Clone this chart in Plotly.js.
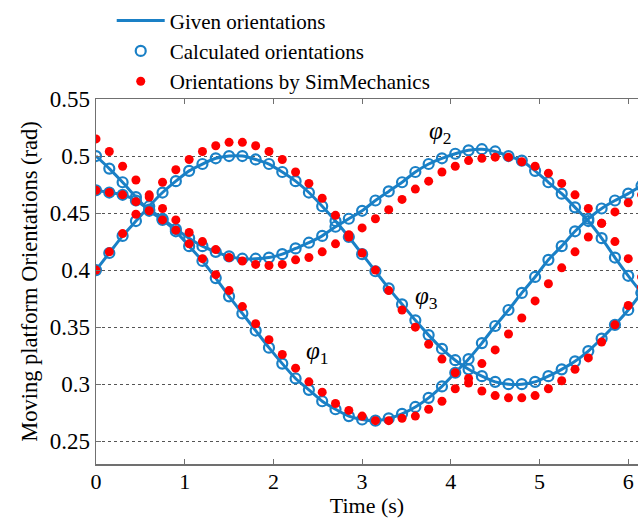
<!DOCTYPE html>
<html>
<head>
<meta charset="utf-8">
<script src="https://cdn.plot.ly/plotly-3.0.1.min.js"></script>
<style>html,body{margin:0;padding:0;background:#fff;}#chart{width:638px;height:518px;}</style>
</head>
<body>
<div id="chart"></div>
<script>
// Time samples (s)
const time = [0.00,0.15,0.30,0.45,0.60,0.75,0.90,1.05,1.20,1.35,1.50,1.65,1.80,1.95,2.10,2.25,2.40,2.55,2.70,2.85,3.00,3.15,3.30,3.45,3.60,3.75,3.90,4.05,4.20,4.35,4.50,4.65,4.80,4.95,5.10,5.25,5.40,5.55,5.70,5.85,6.00,6.15];

// Given orientations (rad)
const givenPhi1 = [0.500,0.489,0.477,0.464,0.452,0.444,0.434,0.421,0.408,0.393,0.377,0.362,0.347,0.332,0.318,0.305,0.295,0.285,0.278,0.272,0.269,0.268,0.270,0.274,0.280,0.288,0.298,0.310,0.322,0.336,0.351,0.365,0.380,0.394,0.409,0.421,0.434,0.445,0.454,0.461,0.467,0.474];
const givenPhi2 = [0.470,0.468,0.466,0.461,0.453,0.445,0.436,0.428,0.421,0.416,0.412,0.410,0.410,0.411,0.414,0.419,0.424,0.430,0.438,0.445,0.452,0.461,0.469,0.477,0.486,0.493,0.498,0.502,0.505,0.506,0.504,0.500,0.496,0.487,0.477,0.467,0.455,0.443,0.428,0.411,0.395,0.380];
const givenPhi3 = [0.400,0.415,0.430,0.443,0.456,0.468,0.478,0.487,0.493,0.498,0.500,0.500,0.497,0.493,0.486,0.478,0.468,0.456,0.443,0.429,0.414,0.399,0.384,0.370,0.356,0.343,0.331,0.321,0.313,0.307,0.302,0.300,0.300,0.302,0.307,0.313,0.320,0.329,0.340,0.352,0.365,0.380];

// Calculated orientations (rad) - coincide with the given ones
const calcPhi1 = givenPhi1.slice();
const calcPhi2 = givenPhi2.slice();
const calcPhi3 = givenPhi3.slice();

// Orientations by SimMechanics (rad)
const simPhi1 = [0.515,0.504,0.491,0.479,0.466,0.454,0.444,0.423,0.410,0.396,0.382,0.368,0.353,0.339,0.326,0.314,0.302,0.293,0.283,0.277,0.272,0.268,0.268,0.270,0.272,0.278,0.285,0.296,0.305,0.318,0.330,0.344,0.358,0.373,0.388,0.402,0.416,0.429,0.441,0.451,0.459,0.466];
const simPhi2 = [0.470,0.468,0.466,0.460,0.452,0.444,0.435,0.433,0.425,0.418,0.411,0.408,0.405,0.404,0.405,0.409,0.411,0.416,0.423,0.429,0.437,0.445,0.453,0.462,0.471,0.478,0.486,0.491,0.496,0.498,0.499,0.499,0.495,0.491,0.485,0.476,0.466,0.454,0.441,0.425,0.410,0.394];
const simPhi3 = [0.400,0.416,0.432,0.449,0.464,0.477,0.488,0.497,0.504,0.509,0.512,0.512,0.509,0.504,0.497,0.486,0.476,0.463,0.448,0.431,0.415,0.400,0.382,0.365,0.350,0.335,0.322,0.310,0.301,0.294,0.290,0.288,0.288,0.290,0.296,0.303,0.313,0.323,0.337,0.352,0.369,0.385];

const seriesNames = ["Given orientations","Calculated orientations","Orientations by SimMechanics"];
const xTicks = [0,1,2,3,4,5,6];
const yTicks = [0.25,0.30,0.35,0.40,0.45,0.50,0.55];
const yTickText = ["0.25","0.3","0.35","0.4","0.45","0.5","0.55"];

const BLUE = "#1a80c6";
const RED = "#ff0000";
const FONT = "Liberation Serif, DejaVu Serif, Noto Serif, serif";

const traces = [];
[givenPhi1, givenPhi2, givenPhi3].forEach((y, i) => {
  traces.push({x: time, y: y, type: "scatter", mode: "lines", name: seriesNames[0],
    legendgroup: "g", showlegend: i === 0,
    line: {color: BLUE, width: 3, shape: "spline", smoothing: 0.6}});
});
[calcPhi1, calcPhi2, calcPhi3].forEach((y, i) => {
  traces.push({x: time, y: y, type: "scatter", mode: "markers", name: seriesNames[1],
    legendgroup: "c", showlegend: i === 0,
    marker: {symbol: "circle-open", size: 10, color: BLUE, line: {width: 2.2, color: BLUE}}});
});
[simPhi1, simPhi2, simPhi3].forEach((y, i) => {
  traces.push({x: time, y: y, type: "scatter", mode: "markers", name: seriesNames[2],
    legendgroup: "s", showlegend: i === 0,
    marker: {symbol: "circle", size: 9, color: RED}});
});

const f = (size) => ({family: FONT, size: size, color: "#000"});

const layout = {
  width: 638, height: 518,
  margin: {l: 96, r: 0, t: 99, b: 54},
  paper_bgcolor: "#fff", plot_bgcolor: "#fff",
  font: f(22),
  showlegend: true,
  legend: {x: 0.029, xanchor: "left", y: 1.27, yanchor: "top",
    font: f(21), bgcolor: "rgba(0,0,0,0)", tracegroupgap: 0, itemwidth: 48},
  xaxis: {range: [0, 6.11], tickvals: xTicks, ticks: "inside", ticklen: 5, tickcolor: "#707070",
    showline: true, linecolor: "#707070", linewidth: 1.5, mirror: "ticks",
    showgrid: false, zeroline: false, tickfont: f(22), ticklabelstandoff: -3,
    title: {text: "Time (s)", font: f(22), standoff: 4}},
  yaxis: {range: [0.23, 0.55], tickvals: yTicks, ticktext: yTickText, ticks: "inside", ticklen: 5,
    tickcolor: "#707070", showline: true, linecolor: "#707070", linewidth: 1.5, mirror: false,
    showgrid: true, gridcolor: "#555", griddash: "dot", gridwidth: 1, zeroline: false,
    tickfont: f(23),
    title: {text: "Moving platform Orientations (rad)", font: f(22.5), standoff: 6}},
  annotations: [
    {x: 2.50, y: 0.328, xref: "x", yref: "y", text: "<i>φ</i><sub>1</sub>", showarrow: false, font: f(25)},
    {x: 3.88, y: 0.521, xref: "x", yref: "y", text: "<i>φ</i><sub>2</sub>", showarrow: false, font: f(25)},
    {x: 3.73, y: 0.376, xref: "x", yref: "y", text: "<i>φ</i><sub>3</sub>", showarrow: false, font: f(25)}
  ]
};

Plotly.newPlot("chart", traces, layout, {displayModeBar: false, staticPlot: true});
</script>
</body>
</html>
